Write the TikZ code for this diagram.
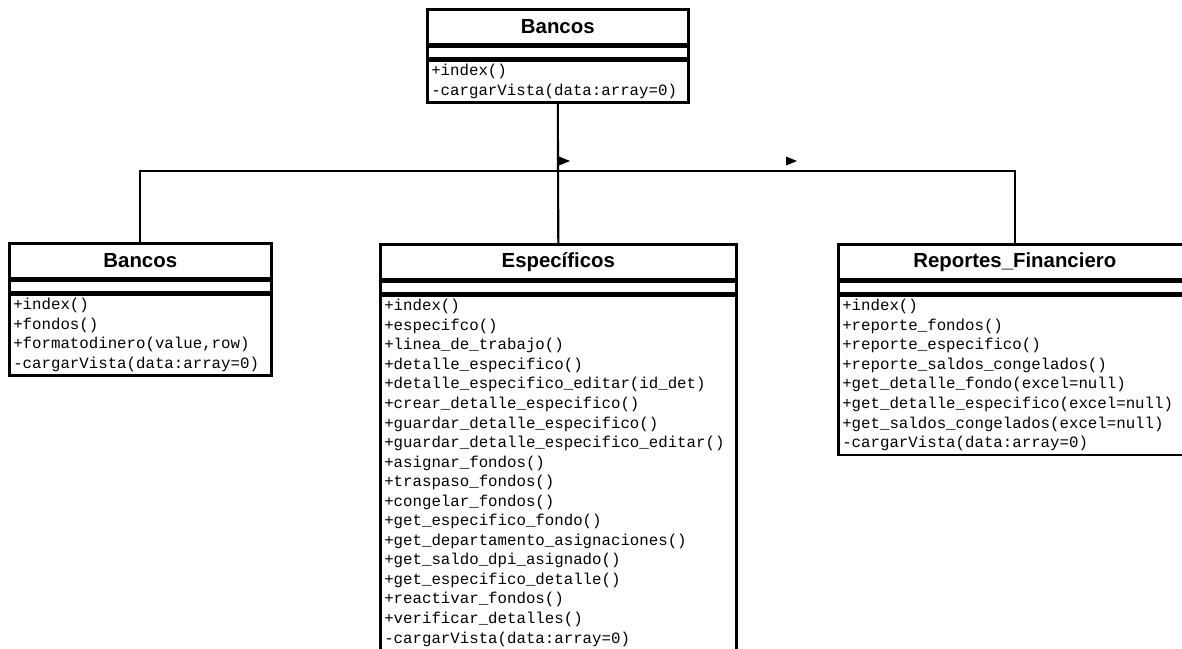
\documentclass[tikz,border=0pt]{standalone}
\usepackage{fontspec}
\usepackage{tikz}
\usetikzlibrary{positioning}
\newfontfamily\umlsans{Liberation Sans}
\newfontfamily\umlmono{Liberation Mono}
\newcommand\umltitle{\umlsans\bfseries\fontsize{14.5}{16}\selectfont}
\newcommand\umlops{\umlmono\fontsize{11.2}{13.9}\selectfont}

\begin{document}
\begin{tikzpicture}[x=0.025cm,y=-0.025cm,clshead/.style={draw,line width=1.8pt,anchor=north west,minimum width=#1,minimum height=0.875cm,inner sep=0pt,font=\umltitle},clsattr/.style={draw,line width=1.8pt,minimum width=#1,minimum height=0.275cm,inner sep=0pt},clsops/.style={draw,line width=1.8pt,align=left,text width=#1,inner xsep=0.1cm,inner ysep=0.1cm,font=\umlops},conn/.style={line width=1.5pt},navtip/.pic={\fill[black] (-5,-4.5) -- (6,0) -- (-5,4.5) -- cycle;}]
\useasboundingbox (0,0) rectangle (1182,649);
\fill[white] (0,0) rectangle (1182,649);
\clip (0,0) rectangle (1182,649);
\node[clshead=6.525cm] (bancosTop) at (426,8) {Bancos};
\node[clsattr=6.525cm,below=0pt of bancosTop] (bancosTopAttr) {};
\node[clsops=6.325cm,below=0pt of bancosTopAttr] (bancosTopOps) {+index()\\-cargarVista(data:array=0)};
\node[clshead=6.55cm] (bancos) at (8,242) {Bancos};
\node[clsattr=6.55cm,below=0pt of bancos] (bancosAttr) {};
\node[clsops=6.35cm,below=0pt of bancosAttr] (bancosOps) {+index()\\+fondos()\\+formatodinero(value,row)\\-cargarVista(data:array=0)};
\node[clshead=8.9cm] (especificos) at (379,243) {Específicos};
\node[clsattr=8.9cm,below=0pt of especificos] (especificosAttr) {};
\node[clsops=8.7cm,below=0pt of especificosAttr] (especificosOps) {+index()\\+especifco()\\+linea\_de\_trabajo()\\+detalle\_especifico()\\+detalle\_especifico\_editar(id\_det)\\+crear\_detalle\_especifico()\\+guardar\_detalle\_especifico()\\+guardar\_detalle\_especifico\_editar()\\+asignar\_fondos()\\+traspaso\_fondos()\\+congelar\_fondos()\\+get\_especifico\_fondo()\\+get\_departamento\_asignaciones()\\+get\_saldo\_dpi\_asignado()\\+get\_especifico\_detalle()\\+reactivar\_fondos()\\+verificar\_detalles()\\-cargarVista(data:array=0)};
\node[clshead=8.825cm] (reportes) at (837,243) {Reportes\_Financiero};
\node[clsattr=8.825cm,below=0pt of reportes] (reportesAttr) {};
\node[clsops=8.625cm,below=0pt of reportesAttr] (reportesOps) {+index()\\+reporte\_fondos()\\+reporte\_especifico()\\+reporte\_saldos\_congelados()\\+get\_detalle\_fondo(excel=null)\\+get\_detalle\_especifico(excel=null)\\+get\_saldos\_congelados(excel=null)\\-cargarVista(data:array=0)};
\coordinate (bus) at (bancosTopOps.south |- 0,171);
\draw[conn] (bancosTopOps.south) -- (especificos.north);
\draw[conn] (bancos.north) |- (bus) -| (reportes.north);
\pic (tipEspecificos) at (564,161) {navtip};
\pic (tipReportes) at (791,161) {navtip};
\end{tikzpicture}
\end{document}
